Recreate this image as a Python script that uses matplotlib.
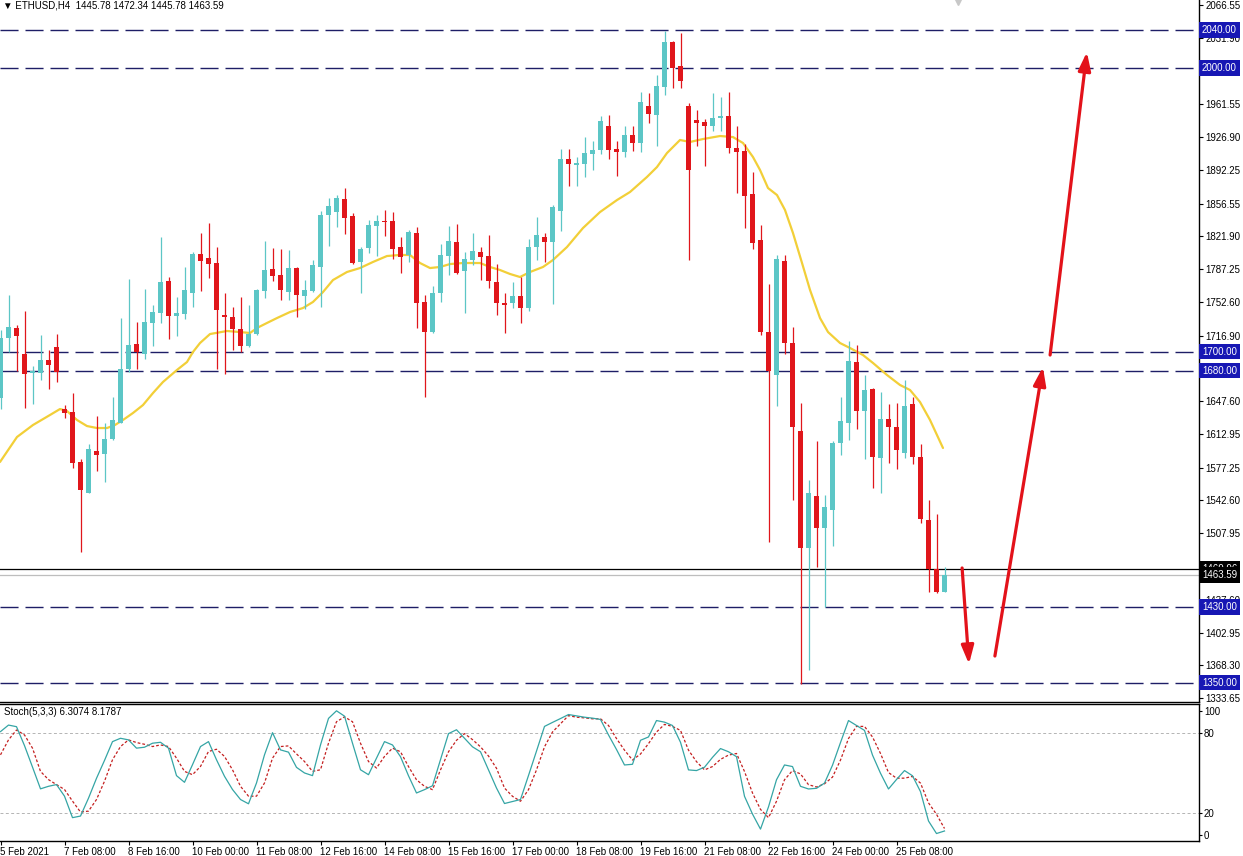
import matplotlib
matplotlib.use('Agg')
import matplotlib.pyplot as plt
import matplotlib.transforms as mtransforms
import numpy as np

plt.rcParams['font.family'] = ['Liberation Sans', 'DejaVu Sans']

# ---------------- data ----------------
header = '\u25BC ETHUSD,H4  1445.78 1472.34 1445.78 1463.59'
stoch_title = 'Stoch(5,3,3) 6.3074 8.1787'

date_labels = ['5 Feb 2021', '7 Feb 08:00', '8 Feb 16:00', '10 Feb 00:00', '11 Feb 08:00',
               '12 Feb 16:00', '14 Feb 08:00', '15 Feb 16:00', '17 Feb 00:00', '18 Feb 08:00',
               '19 Feb 16:00', '21 Feb 08:00', '22 Feb 16:00', '24 Feb 00:00', '25 Feb 08:00']
label_every = 8

opens = [1651, 1714, 1725, 1698, 1677, 1677, 1691, 1705, 1639, 1636,
         1583, 1551, 1595, 1592, 1608, 1625, 1682, 1708, 1698, 1730,
         1741, 1775, 1738, 1740, 1762, 1803, 1799, 1794, 1739, 1737,
         1724, 1706, 1719, 1764, 1787, 1781, 1763, 1788, 1759, 1764,
         1790, 1845, 1848, 1861, 1843, 1795, 1810, 1833, 1838, 1838,
         1811, 1802, 1825, 1752, 1721, 1762, 1801, 1816, 1785, 1797,
         1805, 1801, 1774, 1751, 1751, 1759, 1746, 1811, 1821, 1816,
         1849, 1904, 1897, 1898, 1909, 1913, 1939, 1914, 1911, 1929,
         1921, 1960, 1950, 1980, 2027, 2002, 1960, 1945, 1943, 1939,
         1947, 1949, 1915, 1912, 1867, 1818, 1721, 1675, 1796, 1709,
         1616, 1492, 1547, 1514, 1533, 1603, 1624, 1689, 1637, 1660,
         1587, 1629, 1620, 1593, 1645, 1589, 1522, 1470, 1445.78]
highs = [1723, 1760, 1728, 1743, 1685, 1718, 1702, 1719, 1644, 1656,
         1586, 1602, 1632, 1625, 1652, 1736, 1777, 1731, 1766, 1749,
         1821, 1779, 1758, 1789, 1805, 1825, 1836, 1811, 1762, 1747,
         1758, 1749, 1766, 1817, 1810, 1808, 1807, 1790, 1776, 1797,
         1849, 1862, 1866, 1873, 1847, 1811, 1839, 1845, 1850, 1848,
         1821, 1829, 1832, 1760, 1769, 1814, 1833, 1835, 1805, 1825,
         1811, 1823, 1793, 1762, 1774, 1779, 1819, 1842, 1825, 1855,
         1914, 1914, 1906, 1927, 1923, 1949, 1950, 1923, 1939, 1939,
         1975, 1973, 1992, 2039, 2028, 2037, 1963, 1955, 1946, 1973,
         1969, 1975, 1939, 1920, 1890, 1834, 1772, 1802, 1802, 1726,
         1646, 1564, 1606, 1548, 1605, 1652, 1711, 1707, 1675, 1661,
         1657, 1645, 1646, 1670, 1652, 1602, 1543, 1528, 1472.34]
lows = [1639, 1700, 1679, 1640, 1645, 1670, 1660, 1668, 1630, 1577,
        1488, 1550, 1574, 1562, 1607, 1624, 1678, 1682, 1692, 1706,
        1730, 1713, 1717, 1735, 1747, 1764, 1778, 1682, 1676, 1702,
        1700, 1705, 1718, 1757, 1775, 1755, 1755, 1737, 1745, 1763,
        1747, 1812, 1832, 1824, 1793, 1762, 1804, 1801, 1822, 1798,
        1783, 1795, 1725, 1652, 1720, 1752, 1781, 1782, 1741, 1792,
        1776, 1767, 1739, 1720, 1746, 1730, 1743, 1797, 1795, 1750,
        1828, 1875, 1875, 1885, 1892, 1909, 1904, 1886, 1906, 1912,
        1911, 1942, 1917, 1971, 1979, 1979, 1797, 1917, 1896, 1933,
        1933, 1910, 1868, 1831, 1808, 1718, 1499, 1643, 1698, 1543,
        1349, 1363, 1472, 1430, 1494, 1591, 1607, 1618, 1586, 1556,
        1550, 1582, 1576, 1587, 1581, 1519, 1446, 1445, 1445.78]
closes = [1714, 1726, 1717, 1676, 1679, 1691, 1686, 1678, 1635, 1582,
          1554, 1597, 1591, 1608, 1628, 1682, 1707, 1700, 1731, 1742,
          1774, 1738, 1741, 1765, 1803, 1796, 1793, 1744, 1737, 1724,
          1706, 1719, 1765, 1786, 1780, 1765, 1788, 1760, 1765, 1792,
          1845, 1854, 1862, 1841, 1794, 1808, 1834, 1838, 1837, 1808,
          1800, 1826, 1751, 1721, 1762, 1802, 1817, 1783, 1798, 1806,
          1800, 1775, 1751, 1749, 1759, 1746, 1811, 1823, 1816, 1853,
          1904, 1898, 1899, 1910, 1913, 1944, 1913, 1911, 1929, 1921,
          1964, 1951, 1981, 2027, 2000, 1986, 1892, 1942, 1939, 1947,
          1949, 1915, 1911, 1865, 1815, 1721, 1679, 1798, 1709, 1620,
          1492, 1550, 1514, 1536, 1603, 1627, 1690, 1637, 1659, 1589,
          1629, 1620, 1596, 1643, 1589, 1523, 1470, 1445.78, 1463.59]

# moving average (bar position, price)
ma_bar = [-0.06, 2.06, 4.06, 6.19, 7.44, 8.31, 9.56, 10.81, 12.06, 13.31, 14.31, 15.31,
          16.56, 17.81, 19.06, 20.31, 22.06, 23.31, 24.06, 24.94, 26.19, 28.31, 29.94,
          31.19, 32.06, 33.31, 34.56, 36.19, 37.81, 39.06, 40.31, 41.56, 43.31, 44.94,
          46.56, 48.31, 49.94, 51.19, 52.44, 53.69, 54.94, 56.19, 57.81, 59.94, 61.19,
          62.44, 63.69, 64.94, 66.19, 67.81, 69.06, 70.81, 72.81, 74.94, 77.06, 78.69,
          80.81, 82.06, 83.31, 84.94, 86.19, 87.81, 89.94, 91.56, 92.81, 94.06, 94.94,
          95.94, 97.06, 98.06, 99.06, 100.19, 101.19, 102.44, 103.44, 104.94, 106.19,
          107.81, 109.06, 110.81, 112.44, 113.69, 114.94, 116.19, 117.81]
ma_val = [1583.3, 1609.7, 1622.4, 1633.0, 1639.3, 1637.2, 1627.7, 1621.3, 1619.2, 1619.2,
          1622.4, 1627.7, 1635.1, 1643.5, 1656.2, 1667.9, 1680.6, 1689.0, 1699.6, 1709.1,
          1718.6, 1721.8, 1720.7, 1719.7, 1725.0, 1730.3, 1735.5, 1741.9, 1746.1, 1752.5,
          1763.0, 1775.7, 1784.2, 1788.4, 1794.8, 1801.1, 1802.2, 1802.2, 1793.7, 1788.4,
          1789.5, 1792.6, 1793.7, 1793.7, 1789.5, 1786.3, 1782.1, 1778.9, 1784.2, 1789.5,
          1796.9, 1810.6, 1830.7, 1847.6, 1860.3, 1868.8, 1884.7, 1895.2, 1910.0, 1923.8,
          1921.7, 1924.8, 1928.0, 1926.9, 1920.6, 1905.8, 1892.1, 1873.0, 1865.6, 1849.8,
          1825.4, 1793.7, 1765.2, 1735.5, 1720.7, 1709.1, 1703.8, 1696.4, 1688.0, 1675.3,
          1664.7, 1659.4, 1646.7, 1627.7, 1598.1]

stoch_k = [80.8, 85.7, 84.5, 70.3, 54.2, 37.9, 39.8, 41.1, 32.4, 16.3, 17.5, 30.9, 45.8,
           59.2, 73.3, 75.8, 74.6, 68.4, 69.1, 72.1, 72.8, 68.4, 47.8, 42.8, 56.0, 69.6,
           73.3, 59.7, 47.3, 37.4, 29.9, 26.7, 42.3, 63.4, 80.0, 67.1, 65.4, 54.0, 49.8,
           47.8, 70.8, 90.7, 96.4, 92.4, 72.1, 52.2, 48.5, 60.9, 73.3, 70.8,
           62.0, 47.7, 34.8, 37.3, 40.2, 59.8, 79.3, 82.2, 75.8, 69.4, 65.7, 52.1, 38.5,
           26.9, 28.4, 29.9, 47.9, 66.2, 84.7, 87.7, 90.6, 93.6, 92.6, 91.6, 90.9, 89.9,
           78.3, 67.4, 55.8, 56.3, 74.3, 76.8, 89.1, 87.9, 85.4, 72.8, 52.1, 51.6, 54.1,
           61.5, 68.1, 65.7, 62.0, 32.3, 19.0, 7.7, 24.4, 44.7, 55.8, 54.6, 39.8, 37.8,
           38.3, 42.2, 55.6, 72.6, 89.1, 85.4, 81.7, 63.2, 49.6, 37.8, 44.9, 51.6, 47.7,
           35.8, 13.8, 4.4, 6.3074]
stoch_d = [63.4, 74.6, 82.0, 78.3, 68.4, 51.0, 44.8, 41.1, 37.4, 28.7, 20.5, 21.2, 29.9,
           43.6, 59.7, 69.6, 74.6, 72.6, 71.3, 69.6, 70.8, 69.6, 60.9, 51.0, 48.5, 54.7,
           65.9, 67.6, 62.2, 52.2, 39.8, 32.4, 32.4, 42.3, 60.9, 69.6, 70.1, 64.1, 58.4,
           51.0, 52.2, 72.1, 88.2, 91.9, 88.2, 72.1, 58.4, 53.5, 62.2, 68.4,
           65.7, 54.6, 44.7, 39.8, 37.3, 52.1, 65.7, 74.3, 79.3, 74.8, 69.4, 62.5, 53.3,
           38.5, 32.3, 28.6, 37.3, 52.1, 69.4, 80.5, 86.7, 92.8, 91.6, 91.1, 90.4, 90.4,
           85.4, 75.6, 66.9, 59.5, 64.0, 71.8, 80.5, 86.2, 84.7, 81.7, 66.9, 58.3, 52.1,
           54.6, 60.0, 63.2, 64.4, 50.9, 34.8, 22.5, 16.3, 28.6, 44.7, 51.6, 49.1, 41.0,
           39.3, 41.7, 46.7, 59.5, 75.6, 84.7, 84.7, 76.8, 64.4, 50.1, 45.9, 45.9, 47.2,
           42.2, 27.4, 18.8, 8.1787]

level_prices = [2040.0, 2000.0, 1700.0, 1680.0, 1430.0, 1350.0]
black_line_price = 1469.96
bid_price = 1463.59
price_ticks = [2066.55, 2031.90, 1996.20, 1961.55, 1926.90, 1892.25, 1856.55, 1821.90,
               1787.25, 1752.60, 1716.90, 1682.25, 1647.60, 1612.95, 1577.25, 1542.60,
               1507.95, 1472.95, 1437.60, 1402.95, 1368.30, 1333.65]
stoch_levels = [80, 20]

# drawn red arrows: (bar, price) start -> end
arrow_start = [(120.2, 1471.2), (124.3, 1378.1), (131.2, 1696.4)]
arrow_end = [(121.06, 1369.6), (130.3, 1683.7), (135.8, 2016.8)]

# ---------------- layout ----------------
W, H = 1243, 856
fig = plt.figure(figsize=(W / 100, H / 100), dpi=100)
fig.patch.set_facecolor('white')


def px_rect(x0, y0, x1, y1):
    return [x0 / W, 1 - y1 / H, (x1 - x0) / W, (y1 - y0) / H]


ax = fig.add_axes(px_rect(0, 0, 1199, 701.5))
sx = fig.add_axes(px_rect(0, 704, 1199, 841))

n = len(closes)
idx = np.arange(n)
o = np.array(opens, float)
c = np.array(closes, float)
h = np.array(highs, float)
l = np.array(lows, float)
up = c >= o

bull_col = '#5CC6C6'
bear_col = '#E0161B'
cols = np.where(up, bull_col, bear_col)

ax.vlines(idx, l, h, colors=cols, lw=0.9, zorder=3)
body_lo = np.minimum(o, c)
body_h = np.maximum(np.abs(c - o), 1.6)
ax.bar(idx, body_h, bottom=body_lo, width=0.62, color=cols, linewidth=0, zorder=4)

ax.plot(ma_bar, ma_val, color='#F2CF38', lw=1.6, zorder=2, solid_capstyle='round')

xmin, xmax = -0.0625, (1199 - 0.5) / 8
ymin, ymax = 1330.0, 2071.84
ax.set_xlim(xmin, xmax)
ax.set_ylim(ymin, ymax)

for lv in level_prices:
    ax.axhline(lv, color='#1E1E66', lw=1.0, dashes=(13, 5), zorder=1)
ax.axhline(black_line_price, color='black', lw=0.9, zorder=1)
ax.axhline(bid_price, color='#BEBEBE', lw=0.9, zorder=1)

# arrows
for (x0, y0), (x1, y1) in zip(arrow_start, arrow_end):
    ax.annotate('', xy=(x1, y1), xytext=(x0, y0),
                arrowprops=dict(arrowstyle='-|>,head_length=1.0,head_width=0.34',
                                color='#E3121A', lw=2.3, shrinkA=0, shrinkB=0,
                                mutation_scale=11), zorder=6)

# chart shift marker
ax.plot([(958 - 0.5) / 8], [ymax - 2], marker='v', ms=4, color='#C8C8C8',
        clip_on=False, zorder=5)

# axes styling main
for s in ['left', 'top']:
    ax.spines[s].set_visible(False)
ax.spines['right'].set_linewidth(1.0)
ax.spines['bottom'].set_linewidth(1.0)
ax.yaxis.tick_right()
ax.set_yticks(price_ticks)
ax.set_yticklabels([f'{t:.2f}' for t in price_ticks])
ax.tick_params(axis='y', length=3, width=0.8, pad=1.5, labelsize=7, colors='black')
ax.set_xticks([])

blend = mtransforms.blended_transform_factory(ax.transAxes, ax.transData)
box_kw = dict(transform=blend, ha='left', va='center', fontsize=7, color='white',
              clip_on=False)
for lv in level_prices:
    ax.text(1.0025, lv, f'{lv:.2f}', zorder=10,
            bbox=dict(boxstyle='square,pad=0.28', fc='#1717B4', ec='none'), **box_kw)
ax.text(1.0025, black_line_price, f'{black_line_price:.2f}', zorder=10,
        bbox=dict(boxstyle='square,pad=0.28', fc='black', ec='none'), **box_kw)
ax.text(1.0025, bid_price, f'{bid_price:.2f}', zorder=11,
        bbox=dict(boxstyle='square,pad=0.28', fc='black', ec='none'), **box_kw)

# ---------------- stochastic ----------------
sx.plot(idx, stoch_k, color='#35A5A5', lw=0.9, zorder=3)
sx.plot(idx, stoch_d, color='#C42020', lw=0.9, dashes=(2.2, 1.6), zorder=2)
for lv in stoch_levels:
    sx.axhline(lv, color='#B4B4B4', lw=0.7, dashes=(3, 2.5), zorder=1)
sx.set_xlim(xmin, xmax)
sx.set_ylim(-1.2, 101.5)
sx.spines['left'].set_visible(False)
for s in ['top', 'bottom', 'right']:
    sx.spines[s].set_linewidth(1.0)
sx.yaxis.tick_right()
sx.set_yticks([96.3, 80, 20, 3.3])
sx.set_yticklabels(['100', '80', '20', '0'])
sx.tick_params(axis='y', length=2, width=0.8, pad=1.5, labelsize=7, colors='black')

tick_pos = [i * label_every for i in range(len(date_labels))]
sx.set_xticks(tick_pos)
sx.set_xticklabels(date_labels)
sx.tick_params(axis='x', length=3, width=0.8, pad=1.5, labelsize=7, colors='black')
for lbl in sx.get_xticklabels():
    lbl.set_ha('left')

fig.text(3 / W, 1 - 5.5 / H, header, ha='left', va='center', fontsize=7)
fig.text(4 / W, 1 - 712 / H, stoch_title, ha='left', va='center', fontsize=7)

fig.savefig('out.png', dpi=100, facecolor='white')
